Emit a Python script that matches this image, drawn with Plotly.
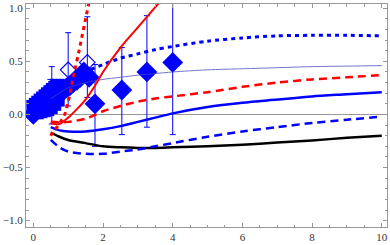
import plotly.graph_objects as go

# ---- data ----
sq_x = [0.0, 0.07, 0.14, 0.21, 0.28, 0.35, 0.42, 0.49, 0.56, 0.63, 0.7,
        0.1, 0.2, 0.3, 0.4, 0.5, 0.6, 0.7]
sq_y = [0.07, 0.09, 0.11, 0.13, 0.15, 0.17, 0.19, 0.21, 0.23, 0.25, 0.27,
        0.02, 0.03, 0.04, 0.05, 0.07, 0.10, 0.14]

dia_x = [0.0, 0.75, 0.85, 0.95, 1.05, 1.15, 1.25, 1.35, 1.45, 1.6, 1.77, 2.54, 3.26, 4.0]
dia_y = [0.0, 0.2, 0.22, 0.25, 0.27, 0.3, 0.32, 0.35, 0.4, 0.35, 0.1, 0.23, 0.4, 0.49]

open_x = [1.0, 1.55]
open_y = [0.42, 0.49]

eb_x = [0.49, 0.53, 1.0, 1.55, 1.77, 2.54, 3.26, 4.0]
eb_y = [0.15, 0.18, 0.42, 0.49, 0.10, 0.23, 0.40, 0.49]
eb_top = [0.33, 0.45, 0.77, 0.92, 0.47, 0.63, 0.93, 1.17]
eb_bot = [0.0, -0.09, 0.08, 0.16, -0.30, -0.19, -0.12, -0.19]

curve_x = [0.5, 0.75, 1.0, 1.5, 2.0, 2.5, 3.0, 3.5, 4.0, 5.0, 6.0, 7.0, 8.0, 9.0, 10.0]
blue_solid = [-0.12, -0.15, -0.16, -0.16, -0.14, -0.11, -0.07, -0.03, 0.01, 0.07, 0.11, 0.14, 0.17, 0.19, 0.21]
black_solid = [-0.17, -0.21, -0.24, -0.27, -0.30, -0.31, -0.315, -0.315, -0.31, -0.30, -0.285, -0.265, -0.245, -0.22, -0.20]
blue_dashed = [-0.24, -0.31, -0.35, -0.37, -0.37, -0.35, -0.33, -0.30, -0.27, -0.21, -0.16, -0.12, -0.08, -0.05, -0.02]
red_dashed = [-0.07, -0.075, -0.07, -0.04, 0.03, 0.08, 0.12, 0.15, 0.17, 0.21, 0.26, 0.30, 0.33, 0.35, 0.37]
blue_dotted = [0.18, 0.24, 0.30, 0.40, 0.47, 0.53, 0.57, 0.61, 0.64, 0.69, 0.72, 0.74, 0.745, 0.745, 0.74]
thin_blue = [0.15, 0.2, 0.25, 0.30, 0.33, 0.35, 0.37, 0.385, 0.40, 0.42, 0.43, 0.44, 0.45, 0.455, 0.46]

red_solid_x = [0.5, 0.75, 1.0, 1.25, 1.5, 1.75, 2.0, 2.5, 3.0, 3.5, 3.8]
red_solid_y = [-0.08, -0.09, -0.03, 0.05, 0.14, 0.26, 0.40, 0.63, 0.82, 1.01, 1.12]

red_dot_x = [0.5, 0.6, 0.7, 0.8, 0.9, 1.0, 1.1, 1.2, 1.3, 1.4, 1.5, 1.6, 1.65]
red_dot_y = [-0.2, -0.15, -0.11, -0.06, 0.0, 0.12, 0.27, 0.43, 0.58, 0.74, 0.90, 1.06, 1.14]

x_ticks = [0, 2, 4, 6, 8, 10]
y_ticks = [-1.0, -0.5, 0.0, 0.5, 1.0]

BLUE = "rgb(0,0,255)"
RED = "rgb(255,0,0)"

fig = go.Figure()

fig.add_trace(go.Scatter(x=sq_x, y=sq_y, mode="markers",
                         marker=dict(symbol="square", size=14, color=BLUE)))
fig.add_trace(go.Scatter(x=dia_x, y=dia_y, mode="markers",
                         marker=dict(symbol="diamond", size=16, color=BLUE)))
fig.add_trace(go.Scatter(x=open_x, y=open_y, mode="markers",
                         marker=dict(symbol="diamond-open", size=12, color=BLUE,
                                     line=dict(width=1.2, color=BLUE))))
fig.add_trace(go.Scatter(
    x=eb_x, y=eb_y, mode="markers", marker=dict(size=2, color=BLUE, opacity=0),
    error_y=dict(type="data", symmetric=False,
                 array=[t - y for t, y in zip(eb_top, eb_y)],
                 arrayminus=[y - b for b, y in zip(eb_bot, eb_y)],
                 color=BLUE, thickness=1, width=3)))

def line(x, y, color, width, dash="solid", opacity=1.0):
    fig.add_trace(go.Scatter(x=x, y=y, mode="lines", opacity=opacity,
                             line=dict(color=color, width=width, dash=dash,
                                       shape="spline", smoothing=0.8)))

line(curve_x, thin_blue, "rgb(70,70,190)", 1, opacity=0.75)
line(curve_x, black_solid, "black", 2.5)
line(curve_x, blue_dashed, BLUE, 2.5, dash="8px,5px")
line(curve_x, blue_solid, BLUE, 2.5)
line(curve_x, red_dashed, RED, 2.5, dash="8px,5px")
line(curve_x, blue_dotted, BLUE, 3, dash="4px,4px")
line(red_solid_x, red_solid_y, RED, 2)
line(red_dot_x, red_dot_y, RED, 3, dash="4px,4px")

axis_common = dict(
    showline=True, linecolor="#999999", linewidth=1, mirror="ticks",
    ticks="inside", tickcolor="#999999", showgrid=False,
    tickfont=dict(family="Liberation Serif", size=11, color="#333333"),
)

fig.update_xaxes(range=[-0.21, 10.15], tickvals=x_ticks, ticklen=4,
                 minor=dict(dtick=0.5, ticklen=2.5, tickcolor="#999999", ticks="inside"),
                 zeroline=False, **axis_common)
fig.update_yaxes(range=[-1.06, 1.04], tickvals=y_ticks, tickformat=".1f", ticklen=4,
                 minor=dict(dtick=0.1, ticklen=2.5, tickcolor="#999999", ticks="inside"),
                 zeroline=True, zerolinecolor="#999999", zerolinewidth=1, **axis_common)

fig.update_layout(width=390, height=245, margin=dict(l=26, r=2, t=3, b=17),
                  paper_bgcolor="white", plot_bgcolor="white", showlegend=False)

fig.write_html("out.html", config={"displayModeBar": False},
               post_script="document.body.style.margin='0';document.body.style.overflow='hidden';")
